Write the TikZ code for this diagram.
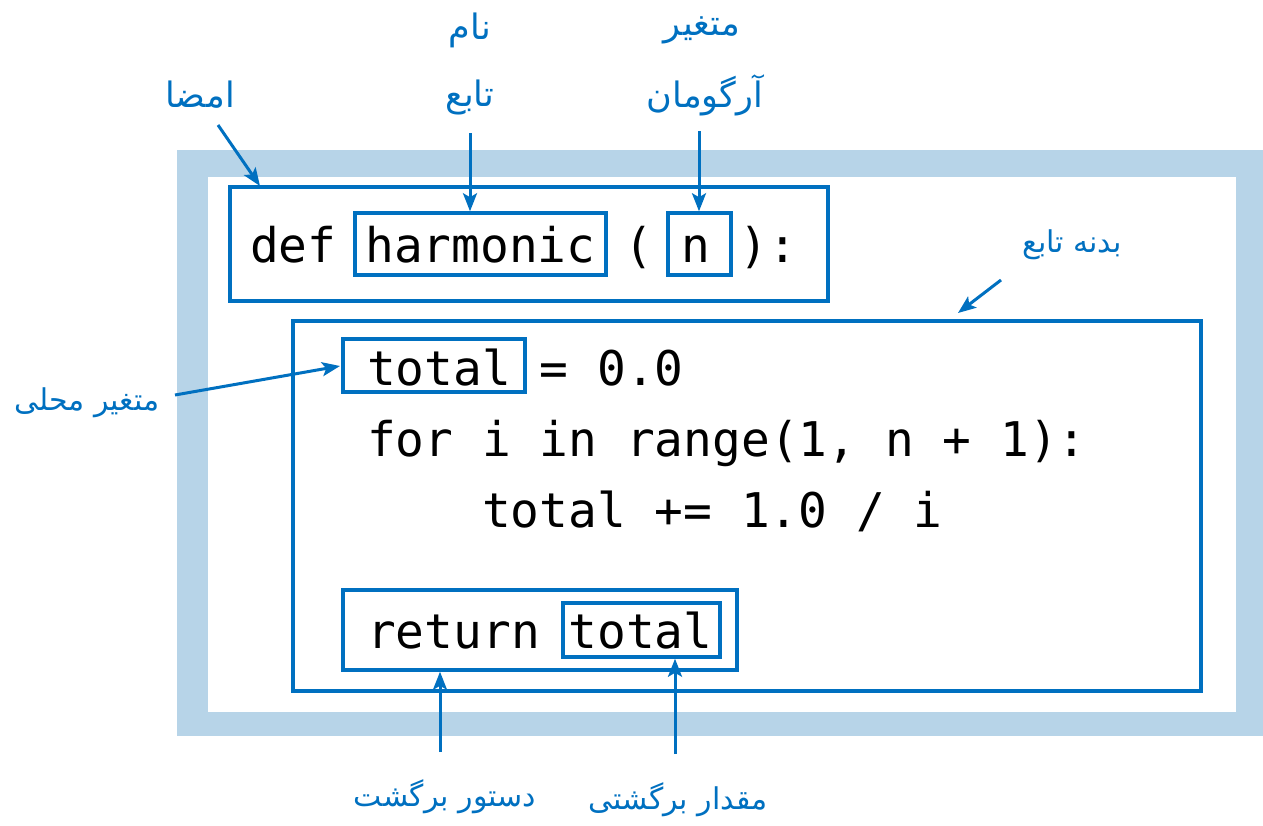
\documentclass[tikz,border=0pt]{standalone}
\usepackage{fontspec}
\usetikzlibrary{arrows.meta}
\TeXXeTstate=1
\newfontfamily\arabicfont[Script=Arabic]{DejaVu Sans}
\newfontfamily\codefont{DejaVu Sans Mono}
\definecolor{dblue}{HTML}{0070C0}
\definecolor{lblue}{HTML}{B7D4E8}
\tikzset{
  box/.style={draw=dblue, line width=3.5pt, inner sep=0pt},
  code/.style={font=\codefont\fontsize{47.8}{57}\selectfont, anchor=base west, inner sep=0pt, text=black},
  lbl/.style={font=\arabicfont\fontsize{35}{42}\selectfont, text=dblue, inner sep=0pt},
  lbls/.style={font=\arabicfont\fontsize{30}{36}\selectfont, text=dblue, inner sep=0pt},
  arr/.style={draw=dblue, line width=3pt, -{Stealth[length=18pt,width=14pt,inset=4pt]}}
}
\begin{document}
\begin{tikzpicture}[x=1pt,y=-1pt]
\useasboundingbox (0,0) rectangle (1263,825);
% outer frame
\fill[lblue] (177,150) rectangle (1263,736);
\fill[white] (208,177) rectangle (1236,712);
% boxes
\node[box, minimum width=598pt, minimum height=114pt] (sig) at (529,244) {};
\node[box, minimum width=251pt, minimum height=62pt] (harm) at (480.5,244) {};
\node[box, minimum width=63pt, minimum height=62pt] (nbox) at (699.5,244) {};
\node[box, minimum width=908pt, minimum height=370pt] (body) at (747,506) {};
\node[box, minimum width=182pt, minimum height=53pt] (tot1) at (434,365.5) {};
\node[box, minimum width=394pt, minimum height=80pt] (ret) at (540,630) {};
\node[box, minimum width=157pt, minimum height=54pt] (tot2) at (641.5,630) {};
% code
\node[code] (l1) at (250,262) {def harmonic ( n ):};
\node[code] (l2) at (367,385) {total = 0.0};
\node[code] (l3) at (367,456) {for i in range(1, n + 1):};
\node[code] (l4) at (482,527) {total += 1.0 / i};
\node[code] (l5) at (367,648) {return total};
% labels
\node[lbl] (t1) at (200,95) {\beginR امضا\endR};
\node[lbl] (t2a) at (470,30) {\beginR نام\endR};
\node[lbl] (t2b) at (470,97) {\beginR تابع\endR};
\node[lbl] (t3a) at (702,30) {\beginR متغیر\endR};
\node[lbl] (t3b) at (705,95) {\beginR آرگومان\endR};
\node[lbls] (t4) at (1072,245) {\beginR بدنه تابع\endR};
\node[lbls] (t5) at (87,403) {\beginR متغیر محلی\endR};
\node[lbls] (t6) at (445,797) {\beginR دستور برگشت\endR};
\node[lbls] (t7) at (678,800) {\beginR مقدار برگشتی\endR};
% arrow anchors
\coordinate (a1s) at (218,125); \coordinate (a1e) at (260,186);
\coordinate (a2s) at (470,133);
\coordinate (a3s) at (699,131);
\coordinate (a4s) at (1001,280); \coordinate (a4e) at (958,313);
\coordinate (a5s) at (175,395); \coordinate (a5e) at (340,366);
\coordinate (a6s) at (440,752);
\coordinate (a7s) at (675,754);
\draw[arr] (a1s) -- (a1e);
\draw[arr] (a2s) -- (a2s |- harm.north);
\draw[arr] (a3s) -- (a3s |- nbox.north);
\draw[arr] (a4s) -- (a4e);
\draw[arr] (a5s) -- (a5e);
\draw[arr] (a6s) -- (a6s |- ret.south);
\draw[arr] (a7s) -- (a7s |- tot2.south);
\end{tikzpicture}
\end{document}
